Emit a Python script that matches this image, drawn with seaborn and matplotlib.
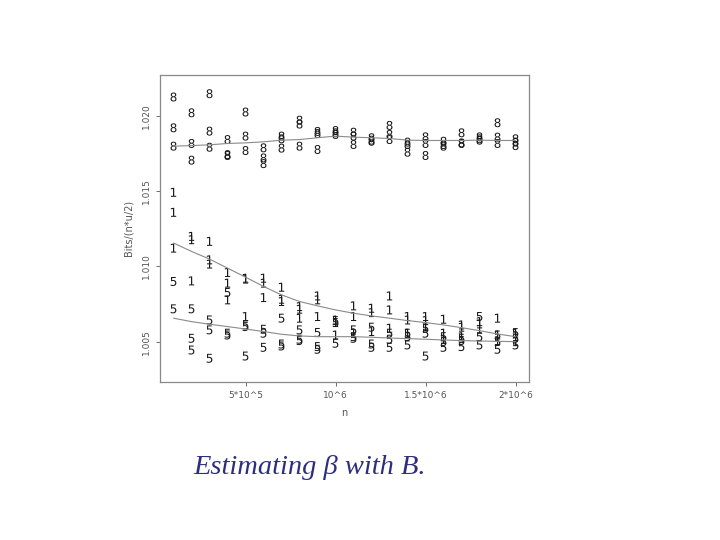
import numpy as np
import pandas as pd
import seaborn as sns
import matplotlib.pyplot as plt

# n values (x 10^5)
n_vals = np.arange(1, 21) * 1e5

# points, three runs per n for each group
pts_8 = [
    [1.02127, 1.01922, 1.01800], [1.02022, 1.01818, 1.01707], [1.02149, 1.01900, 1.01793],
    [1.01844, 1.01744, 1.01738], [1.02027, 1.01867, 1.01771], [1.01789, 1.01722, 1.01684],
    [1.01867, 1.01849, 1.01787], [1.01973, 1.01947, 1.01800], [1.01898, 1.01884, 1.01778],
    [1.01904, 1.01889, 1.01878], [1.01893, 1.01867, 1.01811], [1.01856, 1.01840, 1.01833],
    [1.01938, 1.01878, 1.01844], [1.01827, 1.01811, 1.01760], [1.01862, 1.01818, 1.01738],
    [1.01833, 1.01811, 1.01800], [1.01889, 1.01822, 1.01818], [1.01862, 1.01849, 1.01840],
    [1.01956, 1.01860, 1.01818], [1.01849, 1.01827, 1.01804],
]
pts_1 = [
    [1.01493, 1.01360, 1.01122], [1.01200, 1.01178, 1.00904], [1.01167, 1.01044, 1.01016],
    [1.00960, 1.00889, 1.00778], [1.00922, 1.00916, 1.00667], [1.00922, 1.00889, 1.00793],
    [1.00862, 1.00782, 1.00767], [1.00733, 1.00716, 1.00656], [1.00804, 1.00778, 1.00667],
    [1.00644, 1.00627, 1.00544], [1.00738, 1.00667, 1.00556], [1.00722, 1.00693, 1.00567],
    [1.00804, 1.00711, 1.00589], [1.00667, 1.00644, 1.00556], [1.00667, 1.00640, 1.00600],
    [1.00649, 1.00556, 1.00516], [1.00611, 1.00596, 1.00533], [1.00633, 1.00618, 1.00582],
    [1.00656, 1.00544, 1.00507], [1.00556, 1.00533, 1.00500],
]
pts_5 = [
    [1.00900, 1.00718], [1.00718, 1.00522, 1.00444], [1.00644, 1.00578, 1.00389],
    [1.00827, 1.00556, 1.00544], [1.00611, 1.00600, 1.00404], [1.00582, 1.00556, 1.00462],
    [1.00656, 1.00484, 1.00471], [1.00578, 1.00516, 1.00507], [1.00561, 1.00467, 1.00449],
    [1.00640, 1.00627, 1.00489], [1.00578, 1.00533, 1.00522], [1.00596, 1.00484, 1.00462],
    [1.00556, 1.00516, 1.00462], [1.00556, 1.00533, 1.00478], [1.00589, 1.00556, 1.00404],
    [1.00533, 1.00500, 1.00462], [1.00522, 1.00507, 1.00467], [1.00667, 1.00533, 1.00478],
    [1.00544, 1.00500, 1.00449], [1.00560, 1.00522, 1.00478],
]

# smooth curves through each group
fit_8 = [1.01800, 1.01804, 1.01809, 1.01818, 1.01822, 1.01829, 1.01840, 1.01844, 1.01856, 1.01867,
         1.01860, 1.01856, 1.01851, 1.01840, 1.01838, 1.01838, 1.01838, 1.01840, 1.01838, 1.01838]
fit_1 = [1.01156, 1.01100, 1.01049, 1.00989, 1.00929, 1.00867, 1.00811, 1.00767, 1.00738, 1.00711,
         1.00689, 1.00671, 1.00656, 1.00640, 1.00627, 1.00611, 1.00593, 1.00573, 1.00551, 1.00533]
fit_5 = [1.00656, 1.00633, 1.00616, 1.00600, 1.00584, 1.00567, 1.00549, 1.00538, 1.00533, 1.00533,
         1.00533, 1.00529, 1.00524, 1.00520, 1.00516, 1.00511, 1.00507, 1.00504, 1.00502, 1.00500]

x_ticks = [5e5, 1e6, 1.5e6, 2e6]
x_ticklabels = ['5*10^5', '10^6', '1.5*10^6', '2*10^6']
y_ticks = [1.005, 1.010, 1.015, 1.020]

rows = []
for grp, pts in [('8', pts_8), ('1', pts_1), ('5', pts_5)]:
    for n, vals in zip(n_vals, pts):
        for v in vals:
            rows.append({'n': n, 'ratio': v, 'group': grp})
points_df = pd.DataFrame(rows)

fit_rows = []
for grp, fit in [('8', fit_8), ('1', fit_1), ('5', fit_5)]:
    for n, v in zip(n_vals, fit):
        fit_rows.append({'n': n, 'ratio': v, 'group': grp})
fit_df = pd.DataFrame(fit_rows)

sns.set_style('white')
plt.rcParams['font.family'] = ['DejaVu Sans']

fig = plt.figure(figsize=(7.2, 5.4), dpi=100)
ax = fig.add_axes([0.222, 0.293, 0.513, 0.568])

# fitted curves
sns.lineplot(data=fit_df, x='n', y='ratio', units='group', estimator=None,
             color='#8a8a8a', linewidth=0.8, ax=ax, legend=False)

# digits as markers
sns.scatterplot(data=points_df, x='n', y='ratio', style='group',
                markers={'8': '$8$', '1': '$1$', '5': '$5$'},
                color='#1a1a1a', s=42, linewidth=0, ax=ax, legend=False)

ax.set_xlim(24000, 2076000)
ax.set_ylim(1.00233, 1.02273)
ax.set_xticks(x_ticks)
ax.set_xticklabels(x_ticklabels)
ax.set_yticks(y_ticks)
ax.set_yticklabels(['%.3f' % t for t in y_ticks], rotation=90, va='center')
ax.tick_params(axis='both', labelsize=6.5, colors='#555555', length=3, width=0.6,
               direction='out', bottom=True, left=True)
ax.set_xlabel('n', fontsize=7, color='#555555', labelpad=6)
ax.set_ylabel('Bits/(n*u/2)', fontsize=7, color='#555555', labelpad=6)
for sp in ax.spines.values():
    sp.set_color('#888888')
    sp.set_linewidth(0.9)

fig.text(0.268, 0.122, 'Estimating \u03b2 with B.', fontsize=20.5, style='italic',
         family='Liberation Serif', color='#2e2e80')

plt.savefig('out.png', dpi=100)
